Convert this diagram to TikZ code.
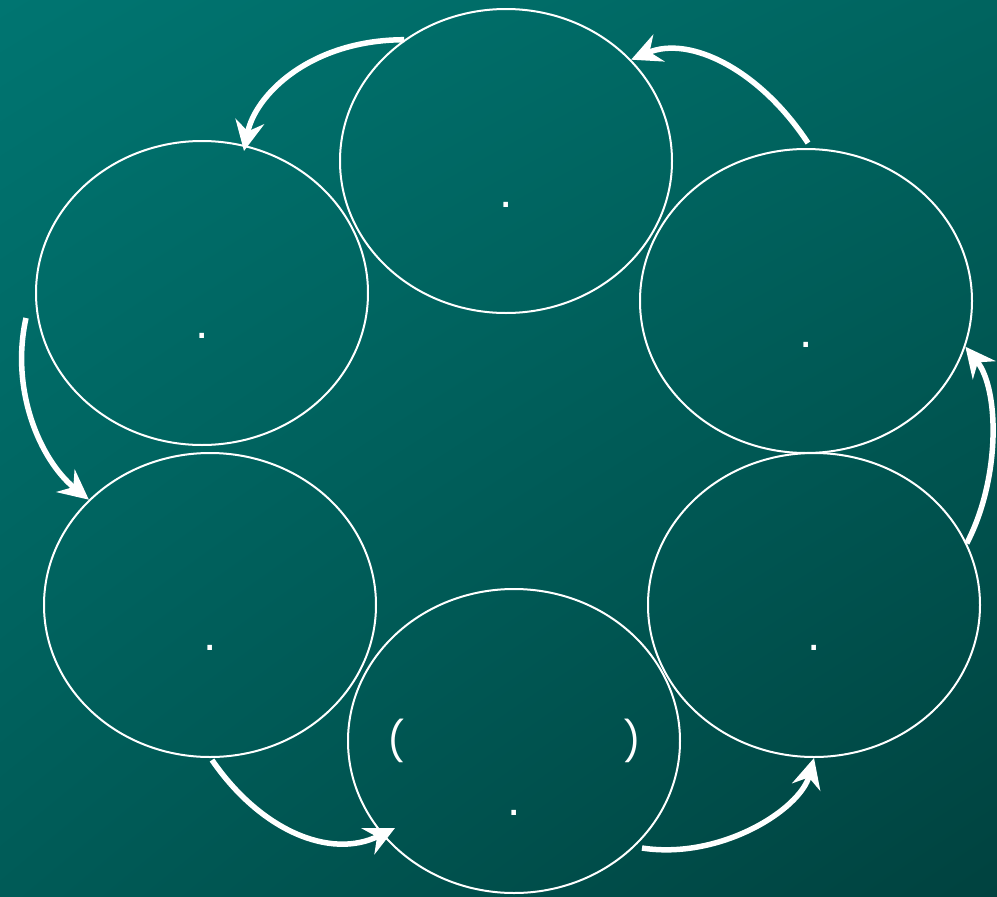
\documentclass[tikz,border=0pt]{standalone}
\usepackage{fontspec}
\setmainfont{Poppins}
\newfontfamily\dotfont{Liberation Sans}
\usetikzlibrary{shapes.geometric,arrows.meta,shadings}
\definecolor{bgA}{HTML}{007571}
\definecolor{bgB}{HTML}{00645F}
\definecolor{bgC}{HTML}{005B57}
\definecolor{bgD}{HTML}{00423F}
\begin{document}
\begin{tikzpicture}[x=1pt,y=-1pt,
  oval/.style={draw=white,line width=2pt,ellipse,minimum width=332pt,minimum height=304pt,inner sep=0pt},
  lbl/.style={text=white,font=\fontsize{39}{39}\selectfont,inner sep=0pt},
  dotlbl/.style={text=white,font=\dotfont\fontsize{48}{48}\selectfont,inner sep=0pt,yshift=-4pt},
  flow/.style={draw=white,line width=5.5pt,-{Stealth[length=30pt,width=29pt,inset=10pt]}}]
\shade[upper left=bgA,upper right=bgB,lower left=bgC,lower right=bgD] (0,0) rectangle (997,897);
\useasboundingbox (0,0) rectangle (997,897);
\node[oval] (top) at (506,161) {};
\node[oval] (lu) at (202,293) {};
\node[oval] (ru) at (806,301) {};
\node[oval] (ll) at (210,605) {};
\node[oval] (bot) at (514,741) {};
\node[oval] (rl) at (814,605) {};
\node[dotlbl] (dtop) at (506,201) {.};
\node[dotlbl] (dlu) at (202,332) {.};
\node[dotlbl] (dru) at (806,341) {.};
\node[dotlbl] (dll) at (210,644) {.};
\node[dotlbl] (dbot) at (514,809) {.};
\node[dotlbl] (drl) at (814,644) {.};
\node[lbl] (pl) at (396,741) {(};
\node[lbl] (pr) at (632,741) {)};
\coordinate (ae) at (244,151);
\coordinate (bs) at (808,143);
\coordinate (cs) at (26,318);
\coordinate (ds) at (212,760);
\coordinate (de) at (395,828);
\coordinate (es) at (642,848);
\draw[flow] (top.130) .. controls (310,40) and (255,95) .. (ae);
\draw[flow] (bs) .. controls (760,70) and (690,35) .. (top.39);
\draw[flow] (cs) .. controls (10,390) and (40,460) .. (ll.139);
\draw[flow] (ds) .. controls (260,830) and (330,860) .. (de);
\draw[flow] (es) .. controls (720,860) and (800,810) .. (rl.270);
\draw[flow] (rl.22) .. controls (1000,480) and (1000,390) .. (ru.344);
\end{tikzpicture}
\end{document}
